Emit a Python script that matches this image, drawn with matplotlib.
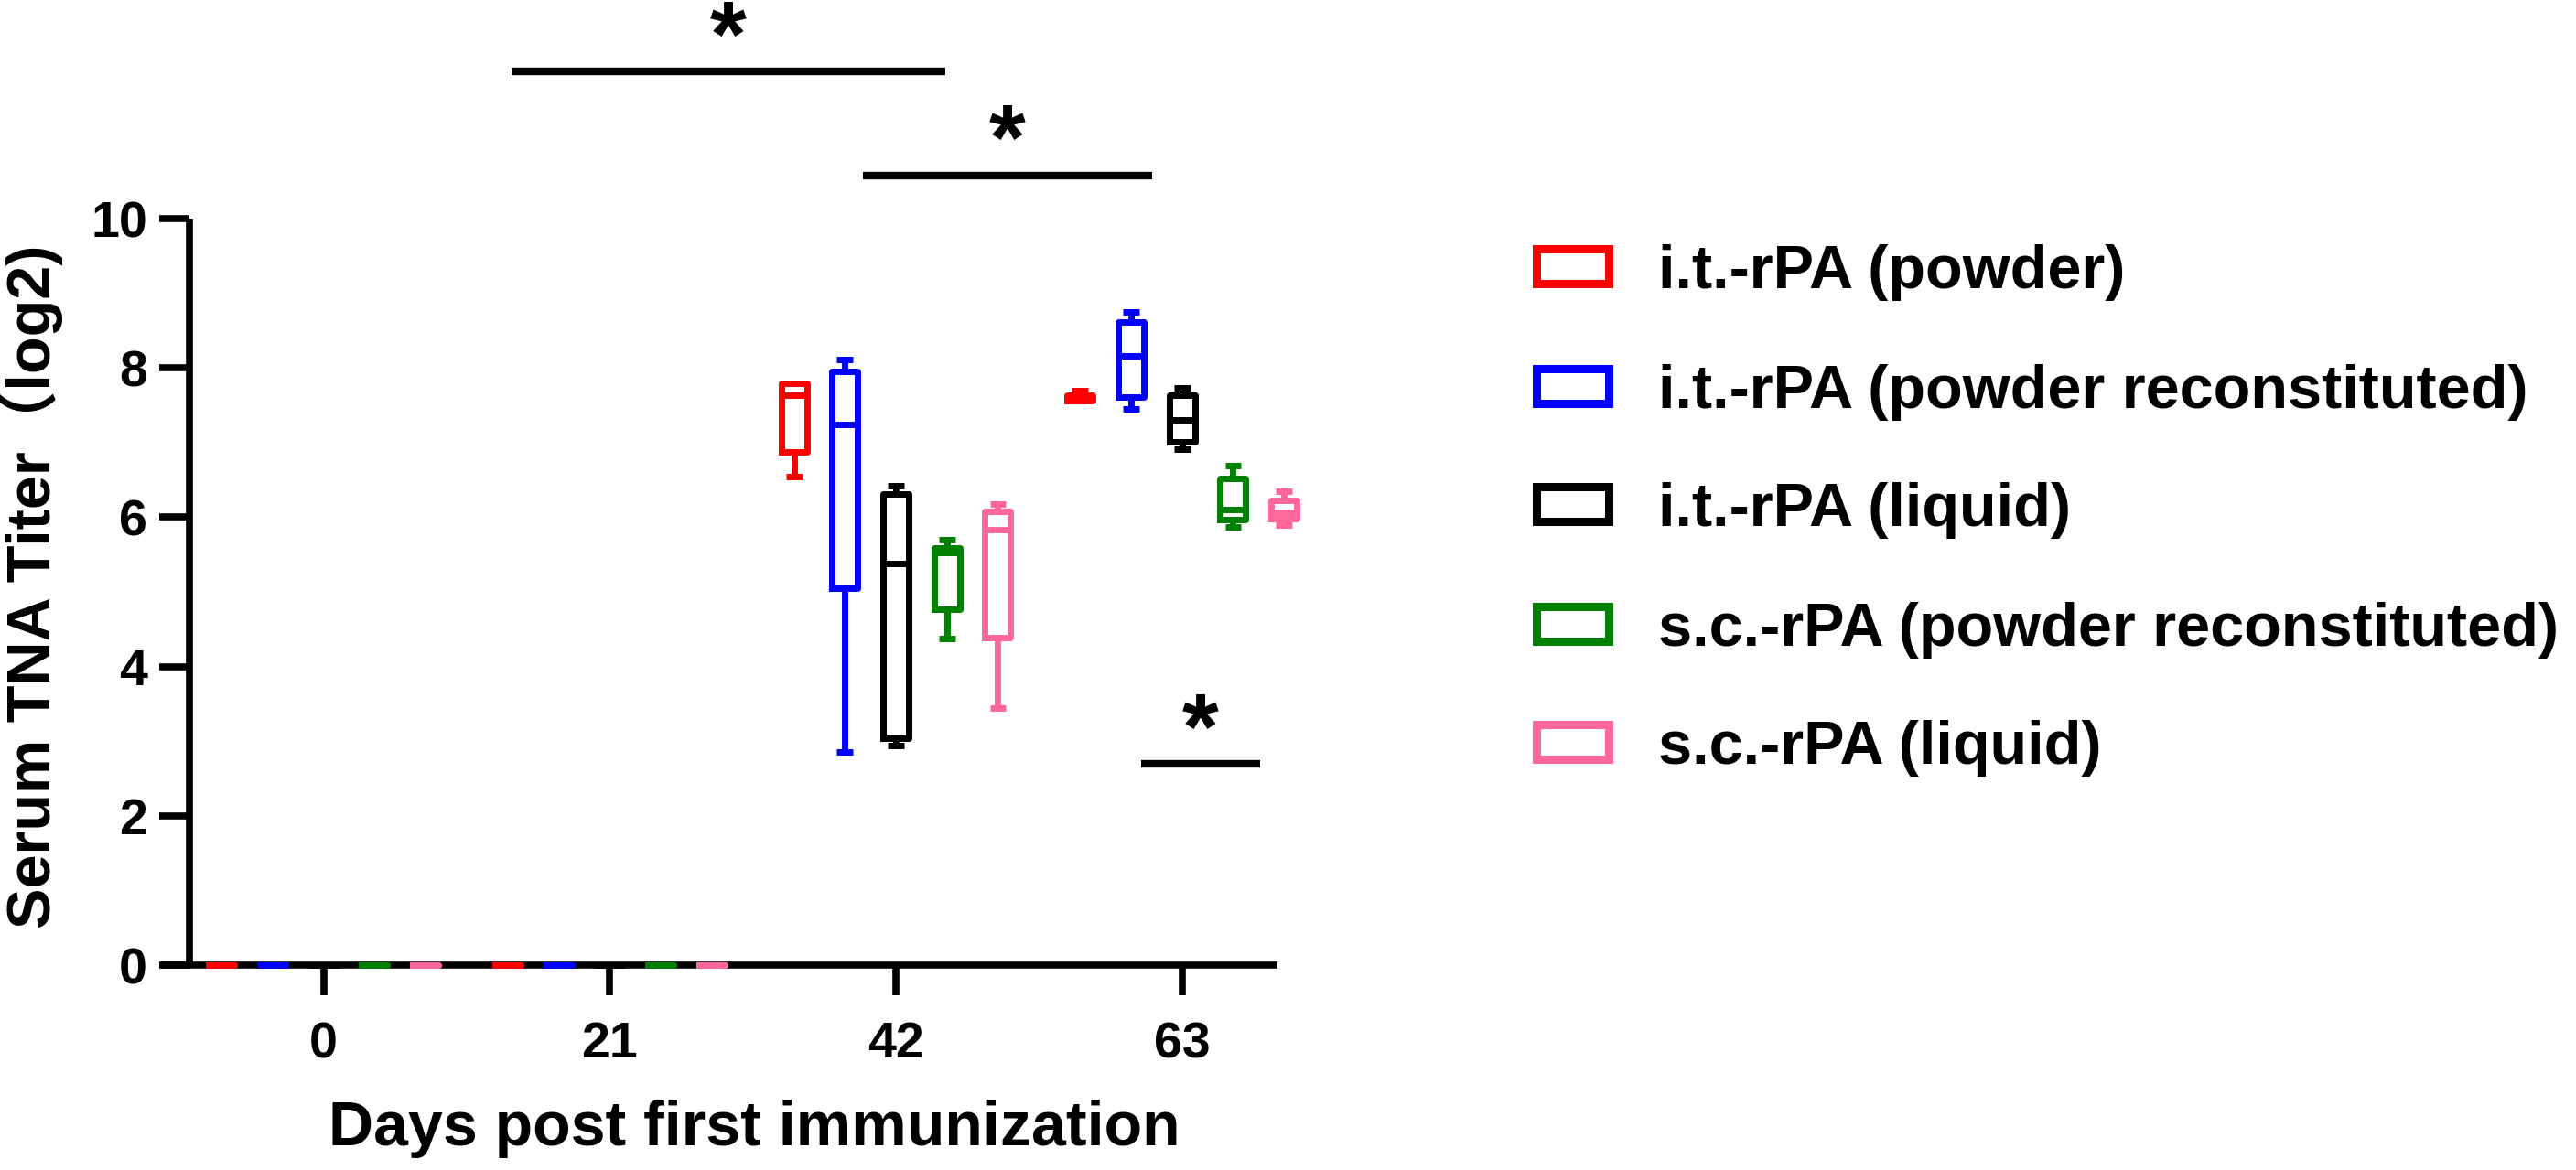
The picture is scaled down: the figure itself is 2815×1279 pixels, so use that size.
import matplotlib
matplotlib.use("Agg")
import matplotlib.pyplot as plt
from matplotlib.patches import Rectangle
from matplotlib.textpath import TextPath
from matplotlib.font_manager import FontProperties

# ---------------- data ----------------
days = [0, 21, 42, 63]
groups = ['i.t.-rPA (powder)', 'i.t.-rPA (powder reconstituted)', 'i.t.-rPA (liquid)',
          's.c.-rPA (powder reconstituted)', 's.c.-rPA (liquid)']
colors = ['#FF0000', '#0000FF', '#000000', '#008000', '#FF6699']

# box statistics per group: rows = days, values = (min, q1, median, q3, max)
red_stats   = [(0, 0, 0, 0, 0), (0, 0, 0, 0, 0),
               (6.55, 6.87, 7.64, 7.80, 7.80), (7.56, 7.56, 7.60, 7.63, 7.69)]
blue_stats  = [(0, 0, 0, 0, 0), (0, 0, 0, 0, 0),
               (2.85, 5.05, 7.24, 7.95, 8.11), (7.45, 7.61, 8.16, 8.62, 8.75)]
black_stats = [(0, 0, 0, 0, 0), (0, 0, 0, 0, 0),
               (2.94, 3.04, 5.38, 6.31, 6.42), (6.91, 7.01, 7.30, 7.64, 7.73)]
green_stats = [(0, 0, 0, 0, 0), (0, 0, 0, 0, 0),
               (4.37, 4.77, 5.53, 5.59, 5.70), (5.87, 5.97, 6.10, 6.52, 6.69)]
pink_stats  = [(0, 0, 0, 0, 0), (0, 0, 0, 0, 0),
               (3.44, 4.39, 5.83, 6.08, 6.18), (5.90, 5.98, 6.07, 6.23, 6.35)]
all_stats = [red_stats, blue_stats, black_stats, green_stats, pink_stats]

# significance brackets: (x_start, x_end, y)
sig_x0 = [13.8, 39.6, 60.0]
sig_x1 = [45.6, 60.8, 68.7]
sig_y = [11.97, 10.58, 2.70]
sig_star_y = [12.68, 11.29, 3.40]
sig_labels = ['*', '*', '*']

# ---------------- figure ----------------
W, H = 2815, 1279
fig = plt.figure(figsize=(W / 100, H / 100), dpi=100)
ax = fig.add_axes([175 / W, 1 - 1055 / H, 1250.8 / W, 816 / H])

FONT = ['Liberation Sans', 'DejaVu Sans']
plt.rcParams['font.family'] = FONT
plt.rcParams['font.weight'] = 'bold'

offset = 3.74
box_w = 1.88
lw = 5.0
for gi, (stats, col) in enumerate(zip(all_stats, colors)):
    bstats = []
    for (lo, q1, med, q3, hi) in stats:
        bstats.append(dict(whislo=lo, q1=q1, med=med, q3=q3, whishi=hi, fliers=[]))
    pos = [d + (gi - 2) * offset for d in days]
    art = ax.bxp(bstats, positions=pos, widths=box_w, capwidths=1.2,
                 showfliers=False, manage_ticks=False,
                 boxprops=dict(color=col, linewidth=lw, solid_joinstyle='round'),
                 whiskerprops=dict(color=col, linewidth=lw),
                 capprops=dict(color=col, linewidth=lw, solid_capstyle='butt'),
                 medianprops=dict(color=col, linewidth=lw, solid_capstyle='butt'))
    for k in ('boxes', 'whiskers', 'caps', 'medians'):
        for a in art[k]:
            a.set_zorder(3)
            a.set_clip_on(False)

ax.set_xlim(-12, 72)
ax.set_ylim(0, 10)
ax.set_xticks(days)
ax.set_xticklabels([str(d) for d in days])
ax.set_yticks([0, 2, 4, 6, 8, 10])
for s in ('top', 'right'):
    ax.spines[s].set_visible(False)
ax.spines['left'].set_position(('data', -9.87))
ax.spines['bottom'].set_bounds(-12, 70)
for s in ('left', 'bottom'):
    ax.spines[s].set_linewidth(5.5)
    ax.spines[s].set_capstyle('butt')
ax.tick_params(axis='both', length=24, width=5.5, direction='out', labelsize=40)
ax.tick_params(axis='x', pad=20)
ax.tick_params(axis='y', pad=9)
for lab in ax.get_xticklabels() + ax.get_yticklabels():
    lab.set_fontweight('bold')
    lab.set_family(FONT)

# significance bars
fp = FontProperties(family='Liberation Sans', weight='bold')
tp = TextPath((0, 0), '*', size=1, prop=fp)
ext = tp.get_extents()
star_fs = 27.4 / ext.height
cx = (ext.x0 + ext.x1) / 2
cy = (ext.y0 + ext.y1) / 2
for x0, x1, y, ys, lab in zip(sig_x0, sig_x1, sig_y, sig_star_y, sig_labels):
    ax.plot([x0, x1], [y, y], color='black', lw=6, solid_capstyle='butt', clip_on=False)
    ax.annotate(lab, xy=((x0 + x1) / 2, ys), xytext=(-cx * star_fs, -cy * star_fs),
                textcoords='offset points', ha='left', va='baseline',
                fontsize=star_fs, fontweight='bold', family=FONT, annotation_clip=False)

# axis titles
fig.text(824 / W, 1 - 1252 / H, 'Days post first immunization', ha='center', va='baseline',
         fontsize=49, fontweight='bold', family=FONT)
fig.text(55 / W, 1 - 641 / H, 'Serum TNA Titer（log2)', rotation=90, rotation_mode='anchor',
         ha='center', va='baseline', fontsize=48, fontweight='bold',
         family=['Liberation Sans', 'Noto Sans CJK SC', 'DejaVu Sans'])

# legend
row_y = [291, 422, 551, 682, 811]
leg_fs = 48
em = leg_fs * 100 / 72
for lab, col, ry in zip(groups, colors, row_y):
    rect = Rectangle((1678.5 / W, 1 - (ry + 19) / H), 79 / W, 38 / H,
                     transform=fig.transFigure, facecolor='white', edgecolor=col,
                     linewidth=6.5, joinstyle='miter')
    fig.add_artist(rect)
    fig.text(1812 / W, 1 - (ry + 0.358 * em) / H, lab, ha='left', va='baseline',
             fontsize=leg_fs, fontweight='bold', family=FONT)

fig.savefig('out.png', dpi=100, facecolor='white')
